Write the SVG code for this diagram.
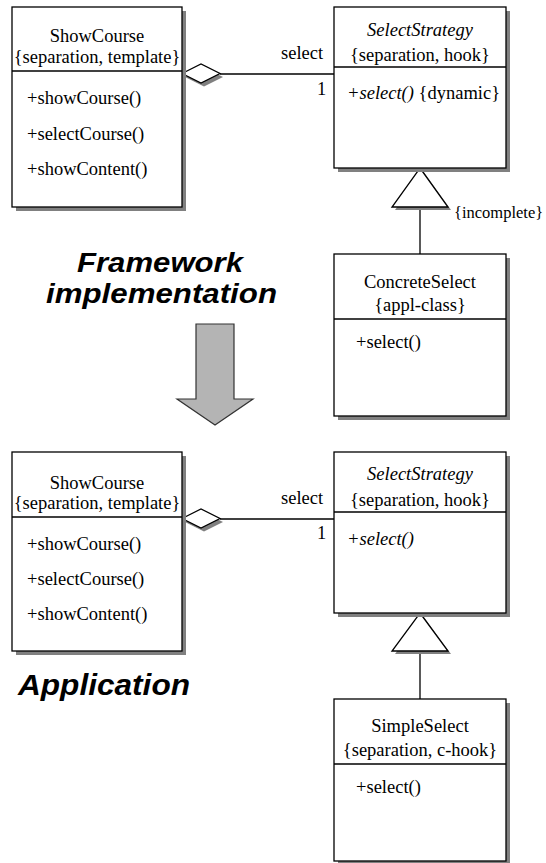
<svg xmlns="http://www.w3.org/2000/svg" width="546" height="863" viewBox="0 0 546 863">
<style>
.box{fill:#fff;stroke:#000;stroke-width:1.3}
.sh{fill:#808080;stroke:none}
.div{stroke:#000;stroke-width:1.3}
.ln{stroke:#000;stroke-width:1.3;fill:none}
.t{font-family:"Liberation Serif","Times New Roman",serif;font-size:18.5px;fill:#000}
.c{text-anchor:middle}
.i{font-style:italic}
.big{font-family:"Liberation Sans",Arial,sans-serif;font-weight:bold;font-style:italic;fill:#000}
</style>
<rect width="546" height="863" fill="#fff"/>

<g id="connectors">
  <line class="ln" x1="220" y1="74" x2="334" y2="74"/>
  <line class="ln" x1="420" y1="207" x2="420" y2="254"/>
  <line class="ln" x1="220" y1="519" x2="334" y2="519"/>
  <line class="ln" x1="420" y1="651" x2="420" y2="699"/>
  <polygon class="sh" points="185,77 204,67.5 223,77 204,86.5"/>
  <polygon class="box" points="182,73.5 201,64 220,73.5 201,83"/>
  <polygon class="sh" points="185,522 204,512.5 223,522 204,531.5"/>
  <polygon class="box" points="182,518.5 201,509 220,518.5 201,528"/>
  <polygon class="sh" points="423,171 451,210 395,210"/>
  <polygon class="box" points="420,168 448,207 392,207"/>
  <polygon class="sh" points="423,616 451,654 395,654"/>
  <polygon class="box" points="420,613 448,651 392,651"/>
  <text class="t" x="281" y="59">select</text>
  <text class="t" x="317" y="95">1</text>
  <text class="t" x="454" y="218" style="font-size:16.5px">{incomplete}</text>
  <text class="t" x="281" y="504">select</text>
  <text class="t" x="317" y="539">1</text>
</g>

<g id="showcourse1">
  <rect class="sh" x="16" y="11" width="170" height="200"/>
  <rect class="box" x="12" y="7" width="170" height="200"/>
  <line class="div" x1="12" y1="71" x2="182" y2="71"/>
  <text class="t c" x="97" y="42">ShowCourse</text>
  <text class="t c" x="97" y="63">{separation, template}</text>
  <text class="t" x="27" y="104">+showCourse()</text>
  <text class="t" x="27" y="140">+selectCourse()</text>
  <text class="t" x="27" y="175">+showContent()</text>
</g>

<g id="selectstrategy1">
  <rect class="sh" x="338" y="11" width="172" height="161"/>
  <rect class="box" x="334" y="7" width="172" height="161"/>
  <line class="div" x1="334" y1="67" x2="506" y2="67"/>
  <text class="t c i" x="420" y="36">SelectStrategy</text>
  <text class="t c" x="420" y="61">{separation, hook}</text>
  <text class="t" x="347" y="99"><tspan class="i">+select()</tspan> {dynamic}</text>
</g>

<g id="concreteselect">
  <rect class="sh" x="338" y="258" width="172" height="162"/>
  <rect class="box" x="334" y="254" width="172" height="162"/>
  <line class="div" x1="334" y1="319" x2="506" y2="319"/>
  <text class="t c" x="420" y="288">ConcreteSelect</text>
  <text class="t c" x="420" y="311">{appl-class}</text>
  <text class="t" x="356" y="348">+select()</text>
</g>

<g id="framework-label">
  <text class="big" font-size="27" x="77" y="272" textLength="166" lengthAdjust="spacingAndGlyphs">Framework</text>
  <text class="big" font-size="27" x="46" y="303" textLength="231" lengthAdjust="spacingAndGlyphs">implementation</text>
</g>

<g id="transition-arrow">
  <polygon points="196,324 234,324 234,399 253,399 215,425 177,399 196,399" fill="#b4b4b4" stroke="#333" stroke-width="1.2"/>
</g>

<g id="showcourse2">
  <rect class="sh" x="16" y="456" width="170" height="199"/>
  <rect class="box" x="12" y="452" width="170" height="199"/>
  <line class="div" x1="12" y1="517" x2="182" y2="517"/>
  <text class="t c" x="97" y="489">ShowCourse</text>
  <text class="t c" x="97" y="509">{separation, template}</text>
  <text class="t" x="27" y="550">+showCourse()</text>
  <text class="t" x="27" y="585">+selectCourse()</text>
  <text class="t" x="27" y="620">+showContent()</text>
</g>

<g id="selectstrategy2">
  <rect class="sh" x="338" y="456" width="172" height="161"/>
  <rect class="box" x="334" y="452" width="172" height="161"/>
  <line class="div" x1="334" y1="512" x2="506" y2="512"/>
  <text class="t c i" x="420" y="480">SelectStrategy</text>
  <text class="t c" x="420" y="506">{separation, hook}</text>
  <text class="t i" x="347" y="545">+select()</text>
</g>

<g id="application-label">
  <text class="big" font-size="29" x="18" y="695" textLength="172" lengthAdjust="spacingAndGlyphs">Application</text>
</g>

<g id="simpleselect">
  <rect class="sh" x="338" y="703" width="172" height="162"/>
  <rect class="box" x="334" y="699" width="172" height="162"/>
  <line class="div" x1="334" y1="764" x2="506" y2="764"/>
  <text class="t c" x="420" y="732">SimpleSelect</text>
  <text class="t c" x="420" y="756">{separation, c-hook}</text>
  <text class="t" x="356" y="793">+select()</text>
</g>
</svg>
